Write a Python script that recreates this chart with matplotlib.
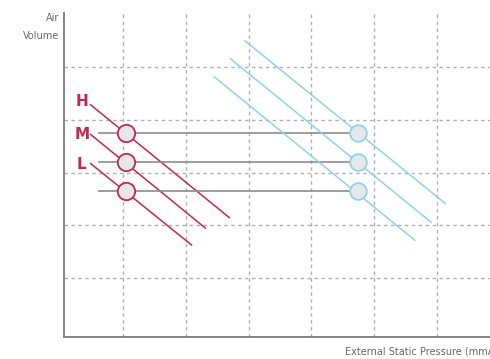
import matplotlib
matplotlib.use("Agg")
import matplotlib.pyplot as plt
import numpy as np

# fan speed labels
speeds = ['H', 'M', 'L']
label_x = [0.34, 0.34, 0.34]
label_y = [4.34, 3.72, 3.16]

# red curves (start / end points in grid units)
red_x0 = [0.48, 0.48, 0.48]
red_y0 = [4.28, 3.72, 3.17]
red_x1 = [2.69, 2.31, 2.09]
red_y1 = [2.15, 1.95, 1.63]

# blue curves
blue_x0 = [2.94, 2.71, 2.45]
blue_y0 = [5.49, 5.15, 4.81]
blue_x1 = [6.14, 5.91, 5.65]
blue_y1 = [2.41, 2.06, 1.72]

# operating points / air volume levels
point_y = [3.74, 3.19, 2.66]
red_pt_x = 1.04
blue_pt_x = 4.75
hline_x0 = 0.62

red = '#c9264f'
blue = '#8fd2ee'

fig = plt.figure(figsize=(4.9, 3.59), dpi=100)
ax = fig.add_axes([0.131, 0.0604, 0.869, 0.9026])
ax.set_xlim(0.059, 6.848)
ax.set_ylim(-0.115, 6.01)

for v in range(1, 7):
    ax.axvline(v, color='#b0b0b0', lw=1, ls=(0, (2.5, 2.5)), zorder=0)
for v in range(1, 6):
    ax.axhline(v, color='#b0b0b0', lw=1, ls=(0, (2.5, 2.5)), zorder=0)

for i, s in enumerate(speeds):
    ax.plot([hline_x0, blue_pt_x], [point_y[i], point_y[i]], color='#8c8c8c', lw=1.2, zorder=2)
    ax.plot([red_x0[i], red_x1[i]], [red_y0[i], red_y1[i]], color=red, lw=1.1, zorder=2)
    ax.plot([blue_x0[i], blue_x1[i]], [blue_y0[i], blue_y1[i]], color=blue, lw=1.1, zorder=2)
    ax.plot(red_pt_x, point_y[i], 'o', ms=12.5, mfc='#e6e7e8', mec=red, mew=1.3, zorder=3)
    ax.plot(blue_pt_x, point_y[i], 'o', ms=12, mfc='#e6e7e8', mec=blue, mew=1.3, zorder=3)
    ax.text(label_x[i], label_y[i], s, color=red, fontsize=11, fontweight='bold',
            ha='center', va='center')

for side in ['top', 'right']:
    ax.spines[side].set_visible(False)
for side in ['left', 'bottom']:
    ax.spines[side].set_color('#7a7a7a')
    ax.spines[side].set_linewidth(1.3)
ax.set_xticks([])
ax.set_yticks([])

fig.text(59 / 490, 1 - 27 / 359, 'Air\nVolume', ha='right', va='center', fontsize=7,
         color='#6a6a6a', linespacing=1.9)
fig.text(345 / 490, 1 - 352 / 359, 'External Static Pressure (mmAq)', ha='left', va='center',
         fontsize=7, color='#6a6a6a')

fig.savefig('out.png', dpi=100)
